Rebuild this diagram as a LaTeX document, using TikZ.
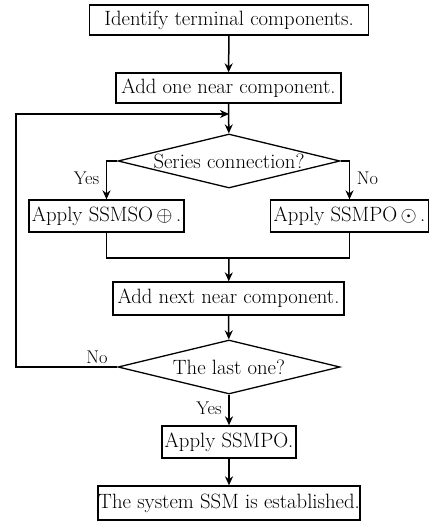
\documentclass[tikz,border=0pt]{standalone}
\usetikzlibrary{shapes.geometric,arrows.meta}
\begin{document}
\begin{tikzpicture}[x=1pt,y=-1pt,
  proc/.style={draw, line width=1.3pt, rectangle, inner sep=0pt, font=\fontsize{20.7}{24}\selectfont},
  dec/.style={draw, line width=1.3pt, diamond, aspect=4.1, inner sep=0pt, minimum width=222pt, minimum height=54pt, font=\fontsize{20.7}{24}\selectfont},
  lab/.style={font=\fontsize{18.4}{21}\selectfont, inner ysep=3pt, inner xsep=6.5pt},
  conn/.style={line width=1.5pt},
  arr/.style={conn, -{Stealth[length=9pt,width=8pt]}}]
\useasboundingbox (0,0) rectangle (430,522);
\node[proc, minimum width=279pt, minimum height=30pt] (b1) at (229,20) {Identify terminal components.};
\node[proc, minimum width=225pt, minimum height=30pt] (b2) at (228.5,88) {Add one near component.};
\node[dec] (d1) at (229,161) {\makebox[0pt]{Series connection?}};
\node[proc, minimum width=155pt, minimum height=32pt] (b3) at (106.5,216) {Apply SSMSO\,$\oplus$\,.};
\node[proc, minimum width=158pt, minimum height=32pt] (b4) at (349.5,216) {Apply SSMPO\,$\odot$\,.};
\node[proc, minimum width=231pt, minimum height=33pt] (b5) at (228.5,298.5) {Add next near component.};
\node[dec] (d2) at (229,367) {\makebox[0pt]{The last one?}};
\node[proc, minimum width=134pt, minimum height=32pt] (b6) at (229,442) {Apply SSMPO.};
\node[proc, minimum width=262pt, minimum height=34pt] (b7) at (229,503) {The system SSM is established.};
\coordinate (m1) at (229,114);
\coordinate (lc) at (16,114);
\coordinate (m2) at (229,258);
\draw[arr] (b1) -- (b2);
\draw[arr] (b2) -- (d1);
\draw[arr] (d1.west) -| (b3.north) node[lab, pos=0.72, left] {Yes};
\draw[arr] (d1.east) -| (b4.north) node[lab, pos=0.72, right] {No};
\draw[conn] (b3.south) |- (m2) -| (b4.south);
\draw[arr] (m2) -- (b5);
\draw[arr] (b5) -- (d2);
\draw[arr] (d2.west) -| (lc) node[lab, pos=0.1, above] {No} -- (m1);
\draw[arr] (d2) -- (b6) node[lab, pos=0.45, left] {Yes};
\draw[arr] (b6) -- (b7);
\end{tikzpicture}
\end{document}
